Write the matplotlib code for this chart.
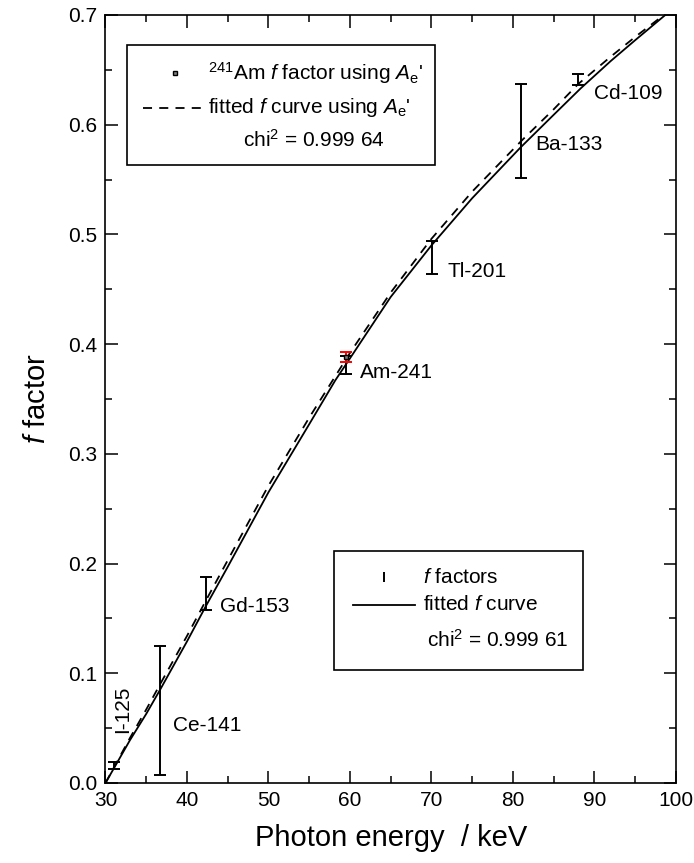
import numpy as np
import matplotlib
matplotlib.use("Agg")
import matplotlib.pyplot as plt
from matplotlib.patches import Rectangle
from matplotlib.ticker import MultipleLocator

plt.rcParams['font.family'] = ['Liberation Sans', 'DejaVu Sans']
plt.rcParams['mathtext.fontset'] = 'custom'
plt.rcParams['mathtext.rm'] = 'Liberation Sans'
plt.rcParams['mathtext.it'] = 'Liberation Sans:italic'

# measured f factors
nuclides = ['I-125', 'Ce-141', 'Gd-153', 'Am-241', 'Tl-201', 'Ba-133', 'Cd-109']
energy = [31.1, 36.7, 42.3, 59.5, 70.1, 81.0, 88.0]
f_val = [0.016, 0.066, 0.173, 0.381, 0.479, 0.594, 0.641]
f_err = [0.003, 0.059, 0.015, 0.008, 0.015, 0.043, 0.005]

# Am-241 f factor using A_e'
am_energy = [59.5]
am_f = [0.3885]
am_err = [0.0045]

# fitted curves
fit_x = [30, 31, 33, 35, 36.7, 40, 42.3, 45, 50, 55, 58.2, 60, 65, 70, 75, 80.9, 85, 88.3, 92, 95, 98.7]
fit_y = [0.0, 0.013, 0.039, 0.063, 0.085, 0.129, 0.161, 0.197, 0.265, 0.327, 0.367, 0.387, 0.443,
         0.490, 0.533, 0.579, 0.609, 0.633, 0.658, 0.677, 0.700]
fit2_x = [30, 33, 35, 36.7, 40, 42.3, 45, 50, 55, 60, 65, 70, 75, 81, 85, 88, 92, 95, 98.7]
fit2_y = [0.0, 0.041, 0.067, 0.090, 0.134, 0.166, 0.203, 0.271, 0.333, 0.392, 0.447, 0.496,
          0.539, 0.585, 0.614, 0.637, 0.662, 0.680, 0.701]

# label positions (x, y, rotation)
label_pos = [(32.1, 0.067, 90), (38.3, 0.052, 0), (44.1, 0.161, 0), (61.2, 0.374, 0),
             (72.0, 0.466, 0), (82.7, 0.582, 0), (89.9, 0.628, 0)]

fig = plt.figure(figsize=(6.94, 8.63), dpi=100)
ax = fig.add_axes([0.152, 0.0927, 0.822, 0.890])

ax.plot(fit_x, fit_y, color='black', lw=1.3)
ax.plot(fit2_x, fit2_y, color='black', lw=1.3, ls=(0, (5, 4)))
ax.errorbar(energy, f_val, yerr=f_err, fmt='none', ecolor='black', elinewidth=1.4,
            capsize=4, capthick=1.4)
ax.errorbar(am_energy, am_f, yerr=am_err, fmt='s', ms=3.5, mfc='0.5', mec='black',
            ecolor='red', elinewidth=1.4, capsize=4, capthick=1.4)

for name, (lx, ly, rot) in zip(nuclides, label_pos):
    ax.text(lx, ly, name, fontsize=15, rotation=rot,
            ha='center' if rot else 'left', va='center')

ax.set_xlim(30, 100)
ax.set_ylim(0, 0.7)
ax.xaxis.set_major_locator(MultipleLocator(10))
ax.xaxis.set_minor_locator(MultipleLocator(5))
ax.yaxis.set_major_locator(MultipleLocator(0.1))
ax.yaxis.set_minor_locator(MultipleLocator(0.05))
ax.tick_params(which='both', direction='in', top=True, right=True, width=1.1, labelsize=15)
ax.tick_params(which='major', length=9, pad=6)
ax.tick_params(which='minor', length=5)
for s in ax.spines.values():
    s.set_linewidth(1.2)
ax.set_xlabel('Photon energy  / keV', fontsize=21, labelpad=10)
ax.set_ylabel('$f$ factor', fontsize=21, labelpad=12)

# legend box 1 (top left)
tr = ax.transAxes
ax.add_patch(Rectangle((0.037, 0.805), 0.541, 0.156, transform=tr, fill=False, lw=1.2, ec='black'))
ax.plot([0.121], [0.924], 's', ms=3.5, mfc='0.5', mec='black', transform=tr)
ax.text(0.180, 0.924, "$^{241}$Am $f$ factor using $A_\\mathrm{e}$'", transform=tr,
        fontsize=15, va='center')
ax.plot([0.065, 0.174], [0.879, 0.879], color='black', lw=1.3, ls=(0, (5, 4)), transform=tr)
ax.text(0.180, 0.879, "fitted $f$ curve using $A_\\mathrm{e}$'", transform=tr,
        fontsize=15, va='center')
ax.text(0.241, 0.837, "chi$^2$ = 0.999 64", transform=tr, fontsize=15, va='center')

# legend box 2 (bottom right)
ax.add_patch(Rectangle((0.400, 0.147), 0.437, 0.155, transform=tr, fill=False, lw=1.2, ec='black'))
ax.plot([0.488], [0.268], '|', ms=7, mew=1.4, color='black', transform=tr)
ax.text(0.556, 0.268, "$f$ factors", transform=tr, fontsize=15, va='center')
ax.plot([0.434, 0.542], [0.232, 0.232], color='black', lw=1.3, transform=tr)
ax.text(0.556, 0.232, "fitted $f$ curve", transform=tr, fontsize=15, va='center')
ax.text(0.563, 0.186, "chi$^2$ = 0.999 61", transform=tr, fontsize=15, va='center')

fig.savefig('out.png', dpi=100)
